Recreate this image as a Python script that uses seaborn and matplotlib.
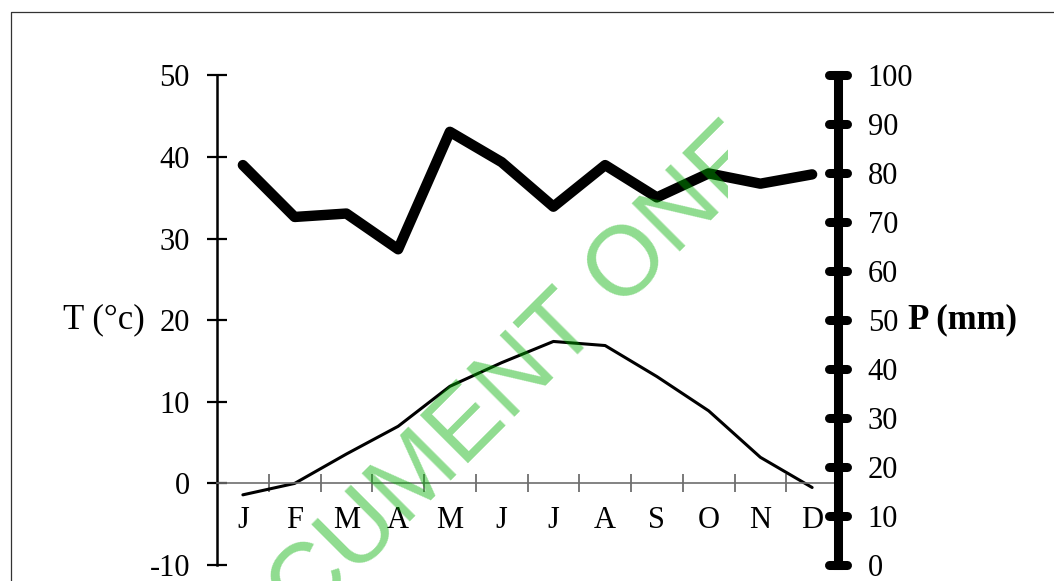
import numpy as np
import pandas as pd
import matplotlib
matplotlib.use('Agg')
import matplotlib.pyplot as plt
from matplotlib.markers import MarkerStyle
from matplotlib.lines import Line2D
from matplotlib.patches import Rectangle
import seaborn as sns

# --- data ---
months = ['J', 'F', 'M', 'A', 'M', 'J', 'J', 'A', 'S', 'O', 'N', 'D']
temperature = [-1.4, 0.0, 3.6, 7.0, 11.9, 14.8, 17.4, 16.9, 13.1, 8.9, 3.2, -0.5]
precipitation = [81.7, 71.1, 71.8, 64.5, 88.5, 82.3, 73.2, 81.7, 75.1, 80.0, 77.9, 79.8]
t_ticks = [-10, 0, 10, 20, 30, 40, 50]
p_ticks = [0, 10, 20, 30, 40, 50, 60, 70, 80, 90, 100]

df = pd.DataFrame({'month': range(len(months)), 'T': temperature, 'P': precipitation})

sns.set_style('white')
plt.rcParams['font.family'] = ['Liberation Serif', 'DejaVu Serif']
plt.rcParams['font.size'] = 22
plt.rcParams['axes.unicode_minus'] = False
for k in ['text.color', 'axes.labelcolor', 'xtick.color', 'ytick.color']:
    plt.rcParams[k] = 'black'

W, H = 1054, 581
fig = plt.figure(figsize=(W / 100, H / 100), dpi=100)
ax = fig.add_axes([217 / W, 1 - 565 / H, 621 / W, 489.5 / H])
ax2 = ax.twinx()

sns.lineplot(data=df, x='month', y='T', ax=ax, color='black', linewidth=2.2)
sns.lineplot(data=df, x='month', y='P', ax=ax2, color='black', linewidth=7.5,
             solid_capstyle='round', solid_joinstyle='round')

# left axis (temperature)
ax.set_xlim(-0.5, len(months) - 0.5)
ax.set_ylim(-10, 50)
ax.set_yticks(t_ticks)
ax.set_yticklabels([str(t) for t in t_ticks])
ax.set_xticks(range(len(months)))
ax.set_xticklabels(months)
ax.set_xticks(np.arange(0.5, len(months) - 0.5, 1), minor=True)
for s in ['top', 'right']:
    ax.spines[s].set_visible(False)
ax.spines['left'].set_color('black')
ax.spines['left'].set_linewidth(1.8)
ax.spines['bottom'].set_position(('data', 0))
ax.spines['bottom'].set_color('#6e6e6e')
ax.spines['bottom'].set_linewidth(1.2)
ax.tick_params(axis='y', left=True, direction='inout', length=15, width=1.6, color='black',
               pad=12, labelsize=22)
ax.tick_params(axis='x', which='major', bottom=True, length=0, pad=16, labelsize=22)
ax.tick_params(axis='x', which='minor', bottom=True, direction='inout', length=13, width=1.1,
               color='#555555')
ax.set_xlabel('')
ax.set_ylabel('T (°c)', rotation=0, ha='right', va='center', fontsize=25)
ax.yaxis.set_label_coords(-0.116, 0.5)
ax.grid(False)

# right axis (precipitation)
ax2.set_ylim(0, 100)
ax2.set_yticks(p_ticks)
ax2.set_yticklabels([str(p) for p in p_ticks])
for s in ['top', 'left', 'bottom']:
    ax2.spines[s].set_visible(False)
ax2.spines['right'].set_color('black')
ax2.spines['right'].set_linewidth(6.5)
ax2.tick_params(axis='y', right=True, direction='inout', length=13, width=6.5, color='black',
                pad=15, labelsize=22)
ax2.set_ylabel('P (mm)', rotation=0, ha='left', va='center', fontsize=25, fontweight='bold')
ax2.yaxis.set_label_coords(1.1127, 0.5)
ax2.grid(False)
for tk in ax2.yaxis.get_major_ticks():
    tk.tick2line.set_marker(MarkerStyle('_', capstyle='round'))

# page frame
fx, fy = 10.5 / W, 1 - 11.5 / H
fig.add_artist(Line2D([fx, fx, 1.0], [0.0, fy, fy], transform=fig.transFigure,
                      color='#333333', linewidth=0.9))

# watermark
wm = fig.text(772 / W, 1 - 160 / H, 'DOCUMENT ONE', rotation=45, rotation_mode='anchor',
              ha='right', va='baseline', fontsize=71, family='Liberation Sans',
              color='#00af00', alpha=0.44, zorder=10)
clip = Rectangle((0, 0), 728 / W, 1, transform=fig.transFigure, visible=False)
fig.add_artist(clip)
wm.set_clip_path(clip)

fig.savefig('out.png', dpi=100)
